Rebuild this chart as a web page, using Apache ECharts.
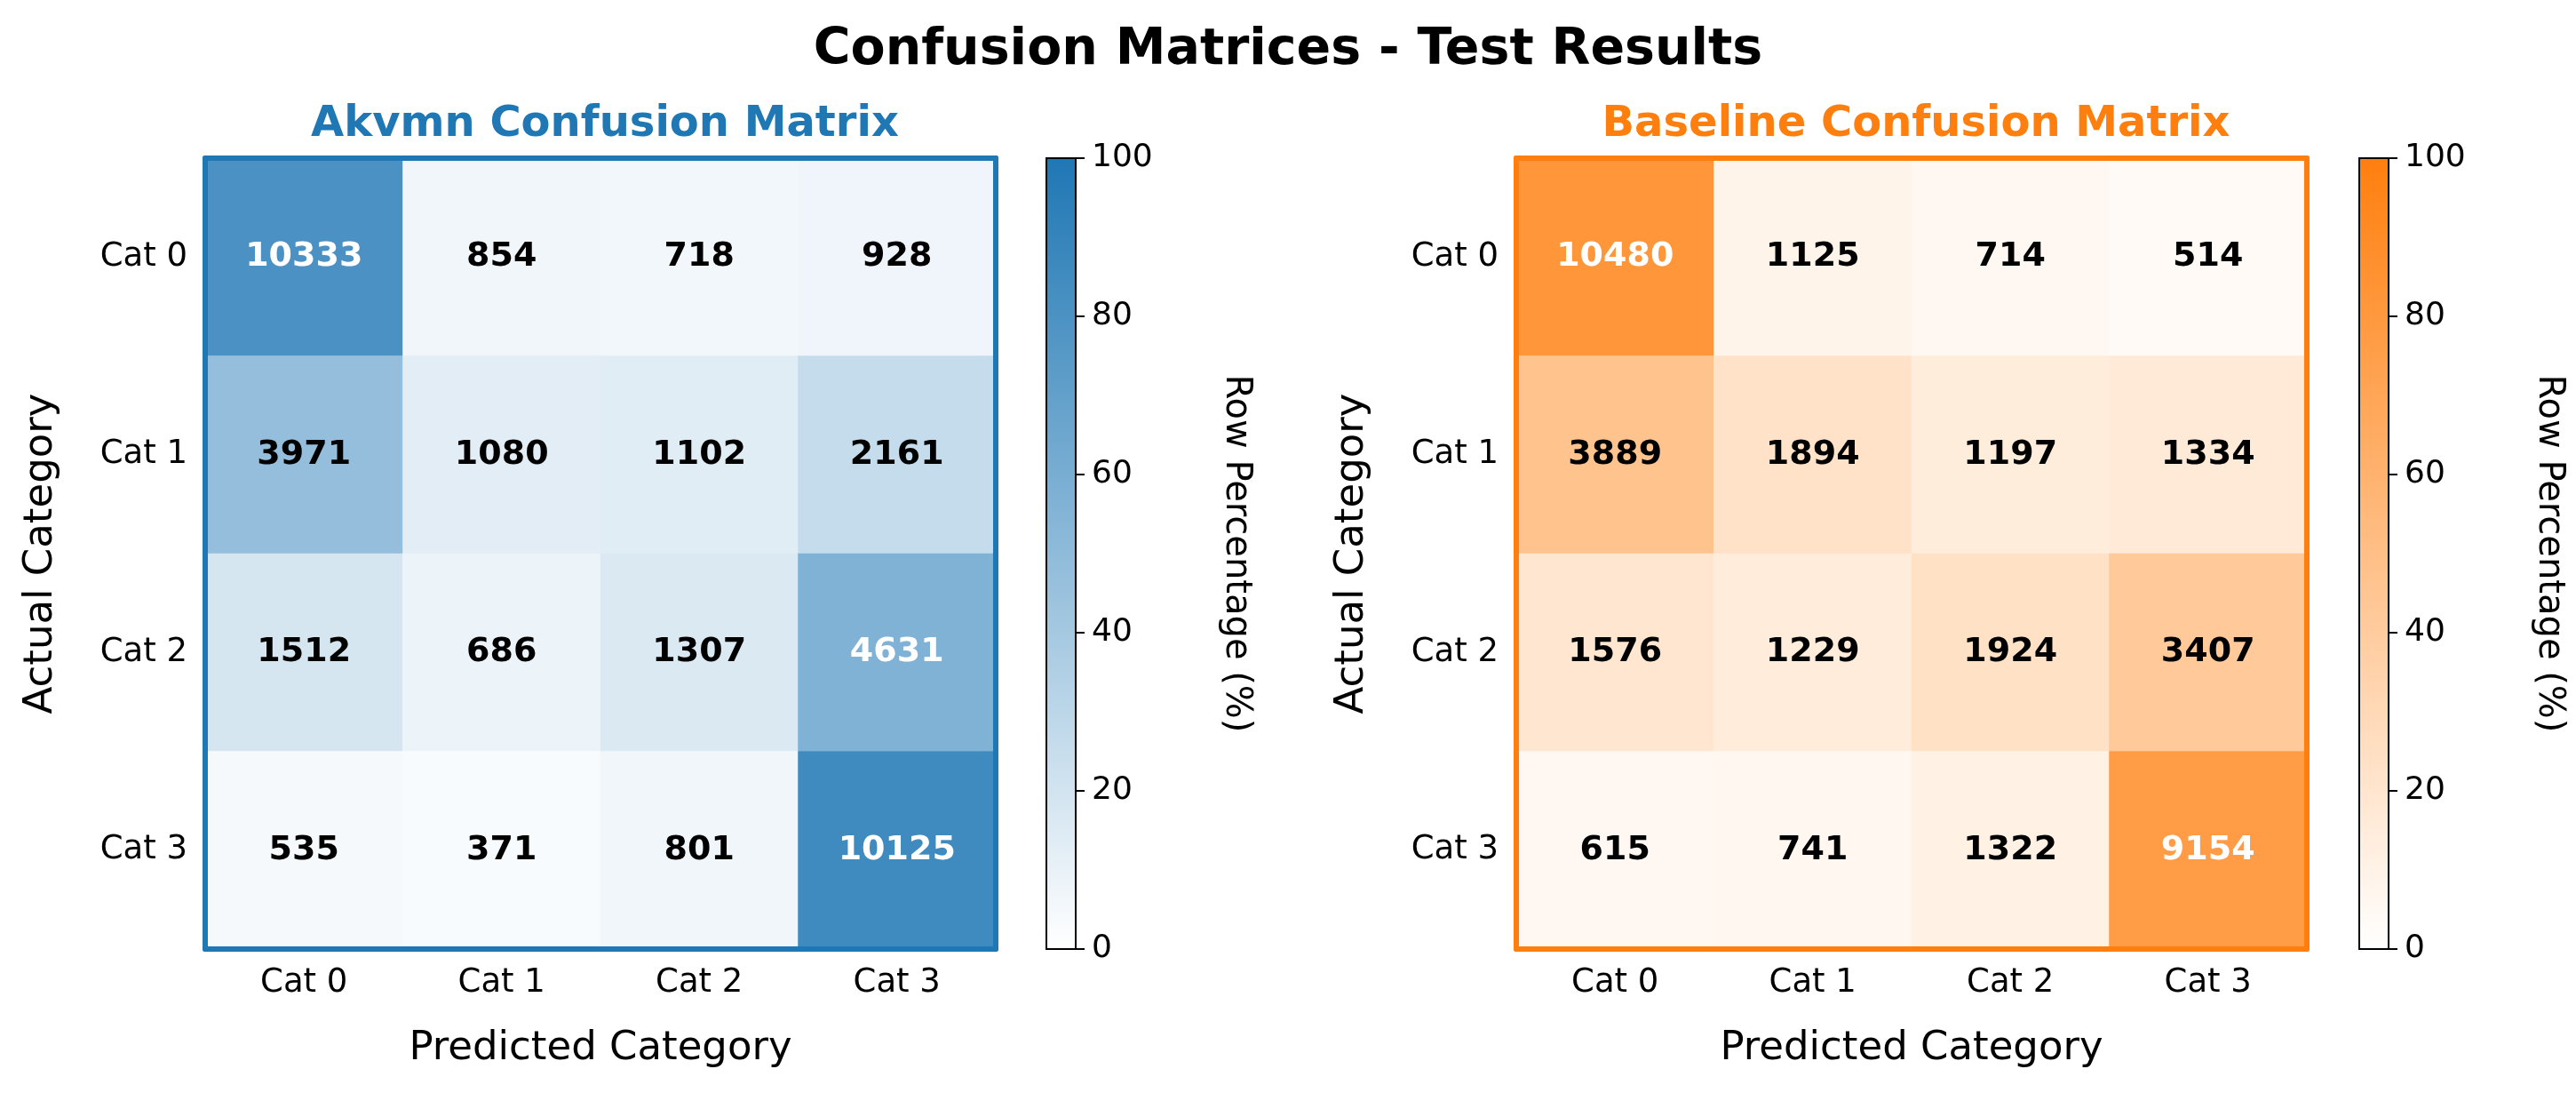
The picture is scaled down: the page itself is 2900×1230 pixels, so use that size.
<!DOCTYPE html>
<html>
<head>
<meta charset="utf-8">
<script src="https://cdn.jsdelivr.net/npm/echarts@6/dist/echarts.min.js"></script>
<style>html,body{margin:0;padding:0;background:#fff}#chart{width:2900px;height:1230px}</style>
</head>
<body>
<div id="chart"></div>
<script>
// 类别与混淆矩阵数据
var categories = ['Cat 0', 'Cat 1', 'Cat 2', 'Cat 3'];
var akvmnMatrix = [
    [10333, 854, 718, 928],
    [3971, 1080, 1102, 2161],
    [1512, 686, 1307, 4631],
    [535, 371, 801, 10125]
];
var baselineMatrix = [
    [10480, 1125, 714, 514],
    [3889, 1894, 1197, 1334],
    [1576, 1229, 1924, 3407],
    [615, 741, 1322, 9154]
];
var colorbarTicks = [0, 20, 40, 60, 80, 100];

var FONT = 'DejaVu Sans';
var BLUE = '#1f77b4', ORANGE = '#ff7f0e';

// 转成热力图数据 [x, y, 行百分比, 数量]
function toCells(m) {
    var out = [];
    m.forEach(function (row, i) {
        var sum = row.reduce(function (a, b) { return a + b; }, 0);
        row.forEach(function (v, j) {
            var pct = v / sum * 100;
            out.push({
                value: [j, i, pct, v],
                label: { color: pct > 50 ? '#fff' : '#000' }
            });
        });
    });
    return out;
}

var chart = echarts.init(document.getElementById('chart'));

var grids = [
    { left: 231, top: 178, width: 890, height: 890 },
    { left: 1707, top: 178, width: 890, height: 890 },
    { left: 1178, top: 178, width: 33, height: 890, show: true, borderColor: '#000', borderWidth: 2, z: 5 },
    { left: 2656, top: 178, width: 33, height: 890, show: true, borderColor: '#000', borderWidth: 2, z: 5 }
];

var xAxes = [], yAxes = [], series = [], visualMaps = [];
var colors = [BLUE, ORANGE];
var mats = [akvmnMatrix, baselineMatrix];

// 热力图坐标轴与系列
for (var k = 0; k < 2; k++) {
    var c = colors[k];
    xAxes.push({
        type: 'category', data: categories, gridIndex: k, position: 'bottom',
        name: 'Predicted Category', nameLocation: 'middle', nameGap: 90,
        nameTextStyle: { fontFamily: FONT, fontSize: 45, color: '#000' },
        axisLabel: { fontFamily: FONT, fontSize: 37, color: '#000', margin: 20 },
        axisTick: { alignWithLabel: true, length: 9, lineStyle: { color: '#000', width: 2 } },
        axisLine: { lineStyle: { color: c, width: 6 } }, z: 10
    });
    xAxes.push({
        type: 'category', data: categories, gridIndex: k, position: 'top',
        axisLabel: { show: false }, axisTick: { show: false },
        axisLine: { lineStyle: { color: c, width: 6 } }, z: 10
    });
    yAxes.push({
        type: 'category', data: categories, gridIndex: k, inverse: true, position: 'left',
        name: 'Actual Category', nameLocation: 'middle', nameGap: 162, nameRotate: 90,
        nameTextStyle: { fontFamily: FONT, fontSize: 45, color: '#000' },
        axisLabel: { fontFamily: FONT, fontSize: 37, color: '#000', margin: 20 },
        axisTick: { alignWithLabel: true, length: 9, lineStyle: { color: '#000', width: 2 } },
        axisLine: { lineStyle: { color: c, width: 6 } }, z: 10
    });
    yAxes.push({
        type: 'category', data: categories, gridIndex: k, inverse: true, position: 'right',
        axisLabel: { show: false }, axisTick: { show: false },
        axisLine: { lineStyle: { color: c, width: 6 } }, z: 10
    });
    series.push({
        type: 'heatmap', xAxisIndex: k * 2, yAxisIndex: k * 2, data: toCells(mats[k]),
        label: {
            show: true, fontFamily: FONT, fontSize: 38, fontWeight: 'bold',
            formatter: function (p) { return p.value[3]; }
        }
    });
    visualMaps.push({
        show: false, type: 'continuous', min: 0, max: 100, dimension: 2,
        seriesIndex: series.length - 1, inRange: { color: ['#ffffff', c] }
    });
}

// 颜色条
for (var k = 0; k < 2; k++) {
    var c = colors[k];
    xAxes.push({ type: 'category', data: [''], gridIndex: k + 2, show: false });
    yAxes.push({
        type: 'value', gridIndex: k + 2, min: 0, max: 100, interval: 20, position: 'right',
        name: 'Row Percentage (%)', nameLocation: 'middle', nameRotate: -90, nameGap: 160,
        nameTextStyle: { fontFamily: FONT, fontSize: 40, color: '#000' },
        axisLabel: { fontFamily: FONT, fontSize: 36, color: '#000', margin: 18 },
        axisTick: { show: true, length: 10, lineStyle: { color: '#000', width: 2 } },
        axisLine: { show: false }, splitLine: { show: false }
    });
    series.push({
        type: 'bar', xAxisIndex: 4 + k, yAxisIndex: 4 + k,
        data: [colorbarTicks[colorbarTicks.length - 1]],
        barWidth: '100%', silent: true,
        itemStyle: { color: new echarts.graphic.LinearGradient(0, 0, 0, 1, [
            { offset: 0, color: c }, { offset: 1, color: '#ffffff' }
        ]) }
    });
}

var option = {
    backgroundColor: '#fff',
    animation: false,
    title: [
        { text: 'Confusion Matrices - Test Results', left: 'center', top: 24,
          textStyle: { fontFamily: FONT, fontSize: 57, fontWeight: 'bold', color: '#000' } },
        { text: 'Akvmn Confusion Matrix', left: 676, textAlign: 'center', top: 112,
          textStyle: { fontFamily: FONT, fontSize: 48, fontWeight: 'bold', color: BLUE } },
        { text: 'Baseline Confusion Matrix', left: 2152, textAlign: 'center', top: 112,
          textStyle: { fontFamily: FONT, fontSize: 48, fontWeight: 'bold', color: ORANGE } }
    ],
    grid: grids,
    xAxis: xAxes,
    yAxis: yAxes,
    visualMap: visualMaps,
    series: series
};
chart.setOption(option);
</script>
</body>
</html>
